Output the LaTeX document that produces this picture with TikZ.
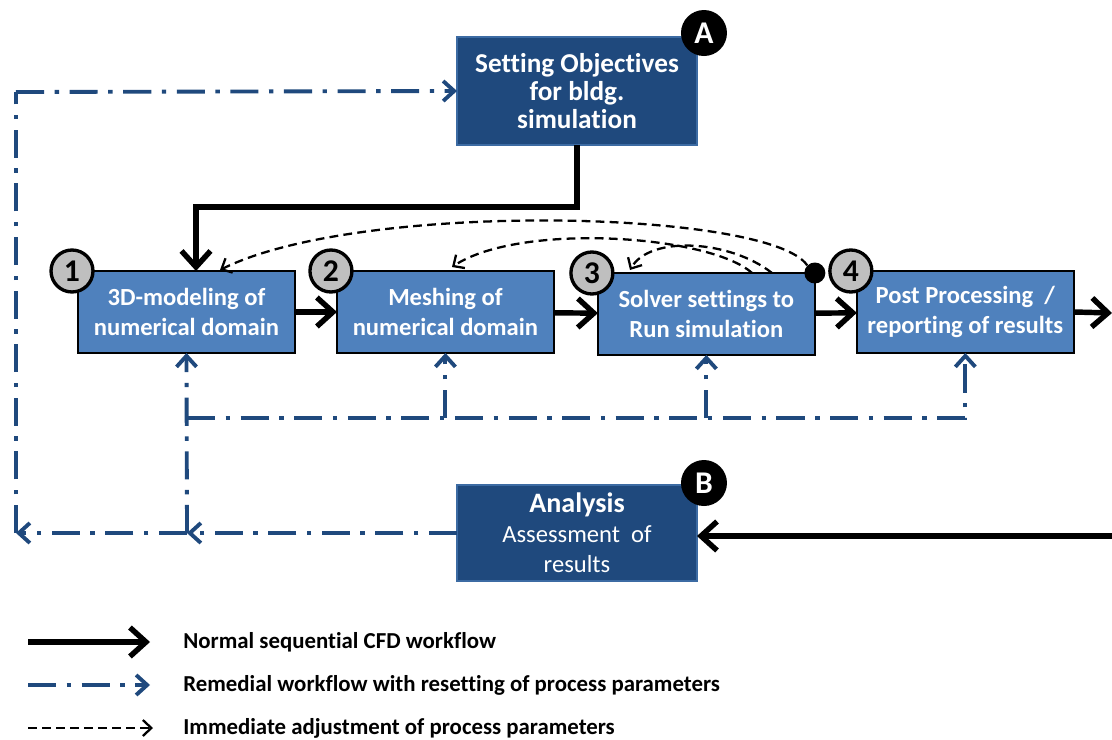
\documentclass[tikz,border=0pt]{standalone}
\usepackage{fontspec}
\setmainfont{Carlito}[Ligatures=NoCommon]
\usepackage{tikz}
\usetikzlibrary{arrows.meta, positioning, calc}
\definecolor{boxblue}{RGB}{79,129,189}
\definecolor{darkblue}{RGB}{31,73,125}
\definecolor{badgegray}{RGB}{191,191,191}

\begin{document}
\begin{tikzpicture}[
        x=0.02cm, y=-0.02cm,
        node distance=0.84cm,
        stagebox/.style={rectangle, draw=black, line width=1pt, fill=boxblue, outer sep=0pt,
                    minimum width=4.34cm, minimum height=1.64cm, inner sep=0pt,
                    align=center, text=white, font=\fontsize{14}{17}\selectfont\bfseries},
        mainbox/.style={rectangle, draw=boxblue!60!darkblue, line width=1.2pt, fill=darkblue,
                    minimum width=4.8cm, inner sep=0pt, outer sep=0pt,
                    align=center, text=white, font=\fontsize{14}{17}\selectfont},
        badge/.style={circle, draw=black, line width=1.9pt, fill=badgegray,
                    minimum size=0.84cm, inner sep=0pt, font=\fontsize{18}{18}\selectfont\bfseries},
        letter/.style={circle, fill=black, text=white, minimum size=0.92cm,
                    inner sep=0pt, font=\fontsize{18}{18}\selectfont\bfseries},
        flow/.style={line width=3.1pt, -{Straight Barb[length=0.32cm, width=0.58cm]}},
        remedial/.style={darkblue, line width=2.2pt,
                    dash pattern=on 16pt off 6pt on 2.5pt off 6pt,
                    -{Straight Barb[length=0.22cm, width=0.4cm]}},
        adjust/.style={line width=1.3pt, dash pattern=on 5pt off 3pt,
                    -{Straight Barb[length=0.17cm, width=0.32cm]}},
        legend/.style={anchor=west, inner sep=0pt, font=\fontsize{13}{15}\selectfont\bfseries}
      ]
        \useasboundingbox (0,0) rectangle (1112,740);

        % top and bottom boxes
        \node[mainbox, minimum height=2.16cm, font=\fontsize{15.5}{16}\selectfont\bfseries]
            (objA) at (577,91) {Setting Objectives\\for bldg.\\simulation};
        \node[letter] (bA) at ([xshift=0.14cm, yshift=0.08cm]objA.north east) {A};
        \node[mainbox, minimum height=1.92cm] (analysis) at (577,533)
            {{\fontsize{16}{17}\selectfont\bfseries Analysis}\\Assessment~ of\\results};
        \node[letter] (bB) at ([xshift=0.14cm, yshift=0.04cm]analysis.north east) {B};

        % CFD stages
        \node[stagebox, anchor=north west] (model) at (78,271) {3D-modeling of\\numerical domain};
        \node[stagebox, right=of model] (mesh) {Meshing of\\numerical domain};
        \node[stagebox, right=0.88cm of mesh, yshift=-0.04cm] (solver) {Solver settings to\\Run simulation};
        \node[stagebox, right=of solver, yshift=0.04cm] (post) {Post Processing~ /\\reporting of results};
        \node[badge] (b1) at ([xshift=-0.12cm]model.north west) {1};
        \node[badge] (b2) at ([xshift=-0.12cm]mesh.north west) {2};
        \node[badge] (b3) at ([xshift=-0.12cm]solver.north west) {3};
        \node[badge] (b4) at ([xshift=-0.12cm]post.north west) {4};
        \node[circle, fill=black, minimum size=0.42cm, inner sep=0pt] (dot) at (solver.north east) {};

        % normal workflow
        \coordinate (turn) at (196,207);
        \coordinate (out) at (1112,313);
        \coordinate (in) at (1112,536);
        \draw[flow] (objA.south) |- (turn) -- (turn |- model.north);
        \draw[flow] (model) -- (mesh);
        \draw[flow] (mesh) -- (solver);
        \draw[flow] (solver) -- (post);
        \draw[flow] (post.east) -- (out);
        \draw[flow] (in) -- (analysis.east |- in);

        % immediate adjustment
        \coordinate (s2) at (752,273);
        \coordinate (s3) at (772,273);
        \draw[adjust] (dot.north west) .. controls (770,210) and (360,200) .. (220,270);
        \draw[adjust] (s2) .. controls (710,235) and (520,222) .. (452,267);
        \draw[adjust] (s3) .. controls (730,240) and (650,235) .. (630,270);

        % remedial workflow
        \coordinate (split) at (187,533);
        \coordinate (corner) at (16,533);
        \coordinate (bus) at (187,418);
        \draw[remedial] (analysis.west) -- (split);
        \draw[remedial] (split) -- (corner);
        \draw[remedial, -] (corner) -- (16,92);
        \draw[remedial] (16,92) -- (objA.west);
        \draw[remedial] (split) -- (model.south);
        \draw[remedial] (bus) -| (post.south);
        \draw[remedial] (mesh.south |- bus) -- (mesh.south);
        \draw[remedial] (solver.south |- bus) -- (solver.south);

        % legend
        \node[legend] (leg1) at (183,642) {Normal sequential CFD workflow};
        \node[legend] (leg2) at (183,685) {Remedial workflow with resetting of process parameters};
        \node[legend] (leg3) at (183,728) {Immediate adjustment of process parameters};
        \draw[flow] (28,642) -- ([xshift=-0.66cm]leg1.west);
        \draw[remedial] (28,685) -- ([xshift=-0.66cm]leg2.west);
        \draw[adjust] (28,728) -- ([xshift=-0.6cm]leg3.west);
      \end{tikzpicture}
\end{document}
